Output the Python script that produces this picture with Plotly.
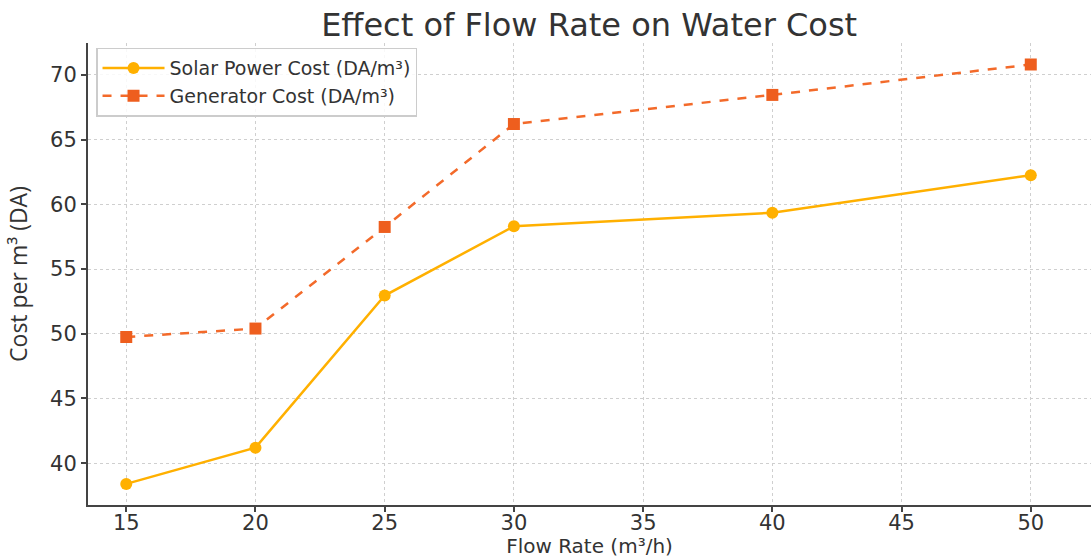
import plotly.graph_objects as go

flow_rate = [15, 20, 25, 30, 40, 50]
solar_cost = [38.4, 41.2, 52.95, 58.3, 59.35, 62.25]
generator_cost = [49.75, 50.4, 58.25, 66.2, 68.45, 70.8]
x_ticks = [15, 20, 25, 30, 35, 40, 45, 50]
y_ticks = [40, 45, 50, 55, 60, 65, 70]

FONT = "DejaVu Sans"
TXT = "#333333"

fig = go.Figure()
fig.add_trace(go.Scatter(
    x=flow_rate, y=solar_cost, mode="lines+markers",
    name="Solar Power Cost (DA/m³)",
    line=dict(color="#FFB000", width=2.5),
    marker=dict(symbol="circle", size=12, color="#FFB000"),
))
fig.add_trace(go.Scatter(
    x=flow_rate, y=generator_cost, mode="lines+markers",
    name="Generator Cost (DA/m³)",
    line=dict(color="#F36A2A", width=2.5, dash="dash"),
    marker=dict(symbol="square", size=12, color="#EE5E1E"),
))

fig.update_layout(
    width=1091, height=558,
    margin=dict(l=88, r=0, t=43, b=53),
    paper_bgcolor="white", plot_bgcolor="white",
    title=dict(text="Effect of Flow Rate on Water Cost", x=0.54, xanchor="center",
               y=0.955, yanchor="middle",
               font=dict(family=FONT, size=32, color=TXT)),
    legend=dict(x=0.008, y=0.99, xanchor="left", yanchor="top",
                bgcolor="rgba(255,255,255,0.85)", bordercolor="#cccccc", borderwidth=1.5,
                font=dict(family=FONT, size=19, color=TXT), itemwidth=62,
                tracegroupgap=0),
    showlegend=True,
)
fig.update_xaxes(
    range=[13.52, 52.33], tickvals=x_ticks, ticktext=[str(v) for v in x_ticks],
    showline=True, linecolor="#444444", linewidth=2, mirror=False,
    ticks="outside", ticklen=5, tickwidth=1.5, tickcolor="#444444",
    ticklabelstandoff=-7,
    showgrid=True, gridcolor="#cfcfcf", griddash="dot", gridwidth=1,
    zeroline=False,
    tickfont=dict(family=FONT, size=21, color=TXT),
    title=dict(text="Flow Rate (m³/h)", font=dict(family=FONT, size=20, color=TXT), standoff=0),
)
fig.update_yaxes(
    range=[36.77, 72.46], tickvals=y_ticks, ticktext=[str(v) for v in y_ticks],
    showline=True, linecolor="#444444", linewidth=2, mirror=False,
    ticks="outside", ticklen=5, tickwidth=1.5, tickcolor="#444444",
    showgrid=True, gridcolor="#cfcfcf", griddash="dot", gridwidth=1,
    zeroline=False,
    tickfont=dict(family=FONT, size=21, color=TXT),
    title=dict(text="Cost per m³ (DA)", font=dict(family="Open Sans", size=23, color=TXT), standoff=16),
)

fig.write_html("out.html")
